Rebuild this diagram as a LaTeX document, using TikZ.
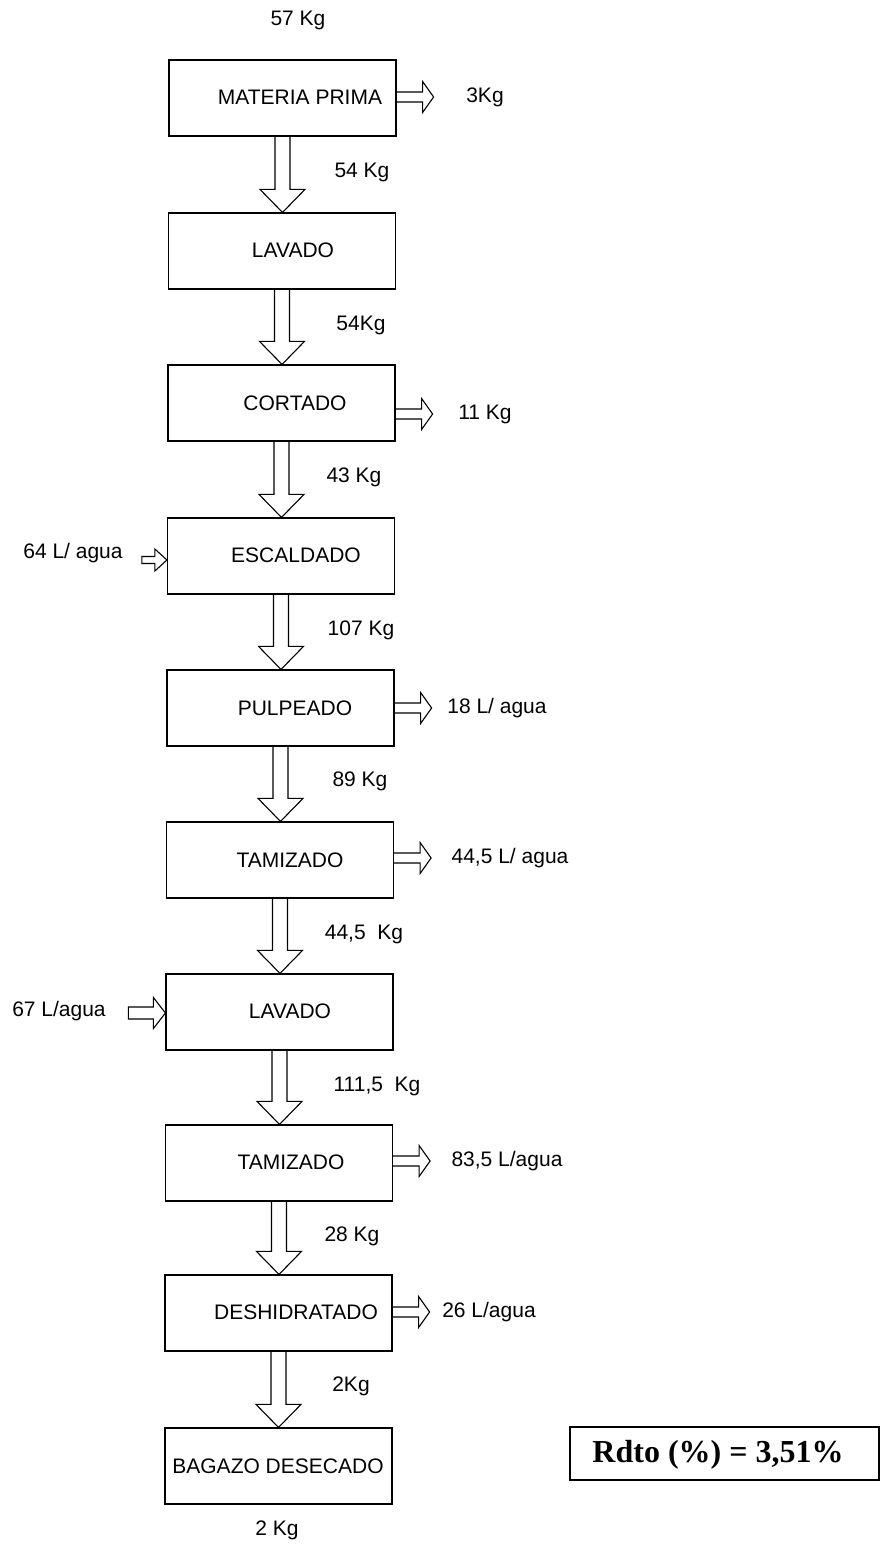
\documentclass[tikz,border=0pt]{standalone}
\usepackage{fontspec}
\setmainfont{Liberation Sans}
\newfontfamily\rdtofont{Liberation Serif}
\usetikzlibrary{calc}
\tikzset{
  box/.style={draw, line width=1.2pt, minimum width=227pt, minimum height=76pt, inner sep=0pt},
  txt/.style={inner sep=0pt, font=\fontsize{21}{25}\selectfont},
  arr/.style={draw, line width=1.1pt, line join=miter},
  rbox/.style={draw, line width=1.5pt, minimum width=309pt, minimum height=53pt, inner sep=0pt}
}
\newcommand\darr[2]{%
  \draw[arr] ($(#1.south)+(-7.5,0)$) -- ($(#1.south |- #2.north)+(-7.5,-23)$)
    -- ($(#1.south |- #2.north)+(-22.5,-23)$) -- (#1.south |- #2.north)
    -- ($(#1.south |- #2.north)+(22.5,-23)$) -- ($(#1.south |- #2.north)+(7.5,-23)$)
    -- ($(#1.south)+(7.5,0)$);}
\newcommand\rarr[2]{%
  \draw[arr] ($(#1.east)+(0,#2-5)$) -- ++(26,0) -- ++(0,-10.5) -- ++(11,15.5)
    -- ++(-11,15.5) -- ++(0,-10.5) -- ++(-26,0);}
\newcommand\larr[5]{% node, dy, shaft length, shaft half, head half
  \draw[arr] ($(#1.west)+(0,#2)$) -- ++(-12,-#5) -- ++(0,#5-#4) -- ++(-#3,0)
    -- ++(0,2*#4) -- ++(#3,0) -- ++(0,#5-#4) -- cycle;}
\begin{document}
\begin{tikzpicture}[x=1pt,y=-1pt]
\useasboundingbox (0,0) rectangle (882,1544);
% boxes
\node[box] (b1) at (282.5,98) {};
\node[box] (b2) at (282,251) {};
\node[box] (b3) at (281.5,403) {};
\node[box] (b4) at (281,556) {};
\node[box] (b5) at (280.5,708) {};
\node[box] (b6) at (280,860) {};
\node[box] (b7) at (279.5,1012) {};
\node[box] (b8) at (279,1163) {};
\node[box] (b9) at (278.5,1313) {};
\node[box] (b10) at (278.5,1466) {};
% box texts
\node[txt] (t1) at (300,97) {MATERIA PRIMA};
\node[txt] (t2) at (293,250) {LAVADO};
\node[txt] (t3) at (295,403) {CORTADO};
\node[txt] (t4) at (296,555) {ESCALDADO};
\node[txt] (t5) at (295,708) {PULPEADO};
\node[txt] (t6) at (290,860) {TAMIZADO};
\node[txt] (t7) at (290,1011) {LAVADO};
\node[txt] (t8) at (291,1162) {TAMIZADO};
\node[txt] (t9) at (296,1312) {DESHIDRATADO};
\node[txt] (t10) at (278,1466) {BAGAZO DESECADO};
% down arrows
\darr{b1}{b2}
\darr{b2}{b3}
\darr{b3}{b4}
\darr{b4}{b5}
\darr{b5}{b6}
\darr{b6}{b7}
\darr{b7}{b8}
\darr{b8}{b9}
\darr{b9}{b10}
% side arrows
\rarr{b1}{-1}
\rarr{b3}{11}
\rarr{b5}{0}
\rarr{b6}{-2}
\rarr{b8}{-2}
\rarr{b9}{-1}
\larr{b4}{4}{13}{3.5}{11}
\larr{b7}{1}{25}{6}{15.5}
% flow labels
\node[txt] (l0) at (298,20) {57 Kg};
\node[txt] (l1) at (485,97) {3Kg};
\node[txt] (l2) at (362,172) {54 Kg};
\node[txt] (l3) at (361,325) {54Kg};
\node[txt] (l4) at (485,414) {11 Kg};
\node[txt] (l5) at (354,477) {43 Kg};
\node[txt] (l6) at (73,553) {64 L/ agua};
\node[txt] (l7) at (361,630) {107 Kg};
\node[txt] (l8) at (497,708) {18 L/ agua};
\node[txt] (l9) at (360,781) {89 Kg};
\node[txt] (l10) at (510,858) {44,5 L/ agua};
\node[txt] (l11) at (364,934) {44,5\ \ Kg};
\node[txt] (l12) at (59,1011) {67 L/agua};
\node[txt] (l13) at (377,1086) {111,5\ \ Kg};
\node[txt] (l14) at (507,1161) {83,5 L/agua};
\node[txt] (l15) at (352,1236) {28 Kg};
\node[txt] (l16) at (489,1312) {26 L/agua};
\node[txt] (l17) at (351,1386) {2Kg};
\node[txt] (l18) at (277,1530) {2 Kg};
% yield box
\node[rbox] (r) at (724.5,1453.5) {};
\node[inner sep=0pt, font=\rdtofont\bfseries\fontsize{32}{37}\selectfont] (rt) at (718,1455) {Rdto (\%) = 3,51\%};
\end{tikzpicture}
\end{document}
